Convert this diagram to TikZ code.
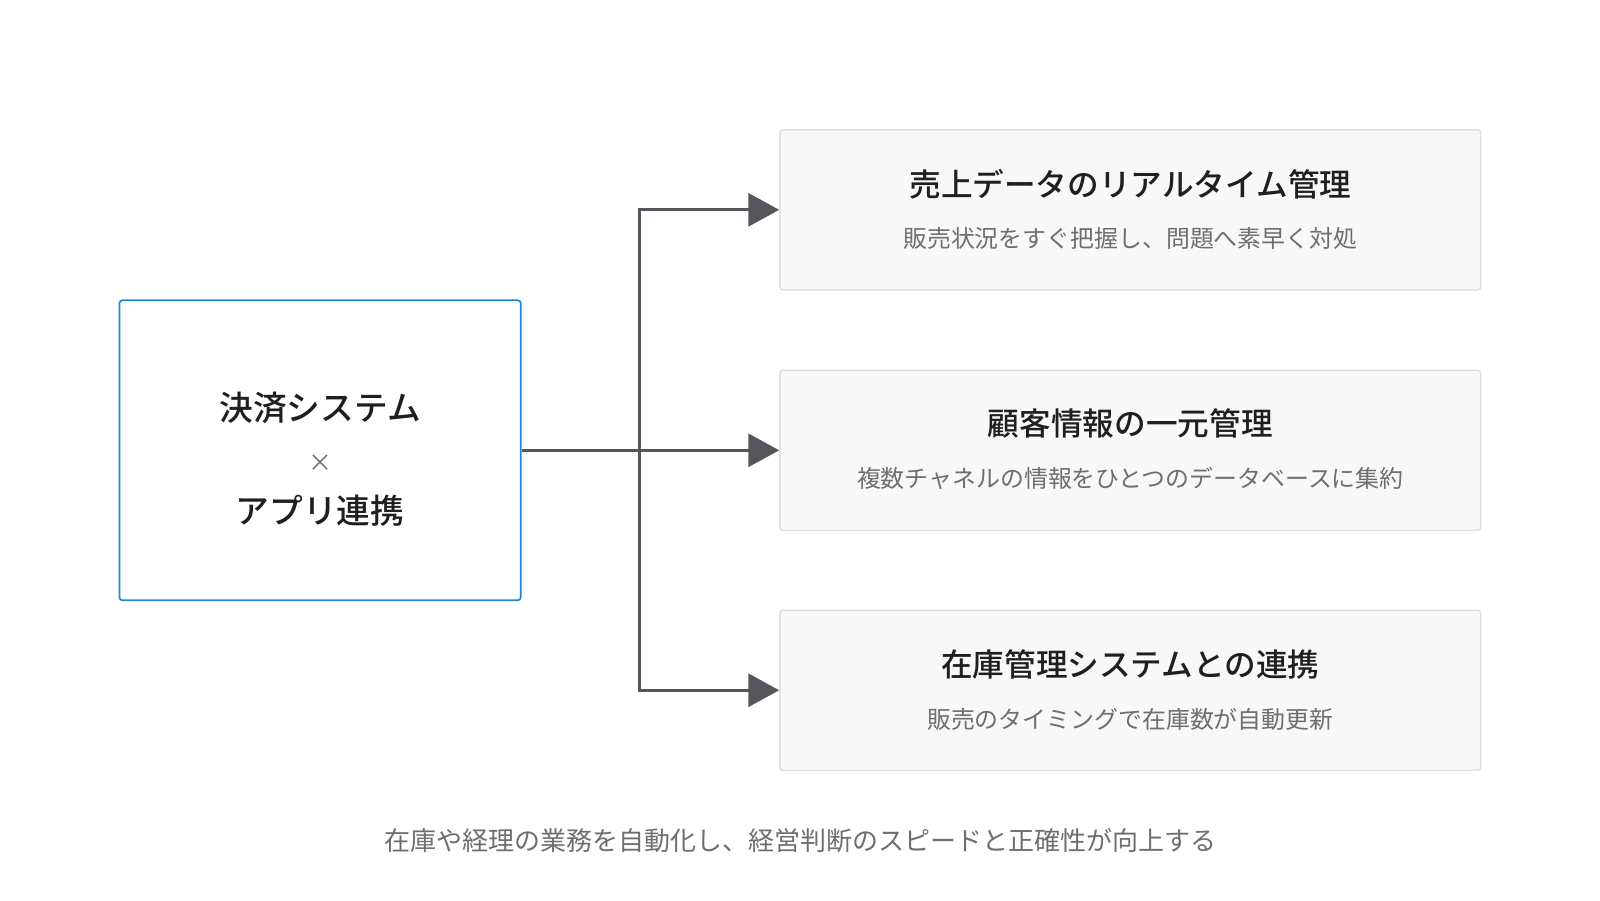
\documentclass[tikz,border=0pt]{standalone}
\usepackage{fontspec}
\setmainfont{Noto Sans CJK JP}
\newfontfamily\medfont{Noto Sans CJK JP Medium}
\usetikzlibrary{arrows.meta, positioning}
\definecolor{lineblue}{HTML}{1A88D6}
\definecolor{darkline}{HTML}{55555C}
\definecolor{boxfill}{HTML}{F8F8F8}
\definecolor{boxline}{HTML}{DDDDDD}
\definecolor{subgray}{HTML}{6E6E6E}
\tikzset{
  card/.style={draw=boxline, fill=boxfill, rounded corners=2pt, line width=1pt, minimum width=17.52cm, minimum height=4cm},
  titletext/.style={font=\fontsize{22.5}{27}\medfont, text=black!88},
  subtext/.style={font=\fontsize{17}{20}\selectfont, text=subgray},
  link/.style={draw=darkline, line width=2.3pt, -{Triangle[length=0.77cm, width=0.82cm]}}
}
\begin{document}
\begin{tikzpicture}[x=0.02553cm, y=-0.02553cm]
    \path[use as bounding box] (0,0) rectangle (1567,881.5);

    % Source box
    \node[draw=lineblue, line width=1.2pt, rounded corners=2pt, minimum width=10.03cm, minimum height=7.5cm] (src) at (313.5,441) {};
    \node[titletext, font=\fontsize{24}{28}\medfont] (srcA) at (313.5,399) {決済システム};
    \node[subtext] (srcX) at (313.5,454) {×};
    \node[titletext, font=\fontsize{24}{28}\medfont] (srcB) at (313.5,500) {アプリ連携};

    % Cards
    \node[card] (c1) at (1107,205.5) {};
    \node[card] (c2) at (1107,441) {};
    \node[card] (c3) at (1107,676) {};
    \node[titletext] (t1) at (1107,180) {売上データのリアルタイム管理};
    \node[subtext] (s1) at (1107,234) {販売状況をすぐ把握し、問題へ素早く対処};
    \node[titletext] (t2) at (1107,415) {顧客情報の一元管理};
    \node[subtext] (s2) at (1107,469) {複数チャネルの情報をひとつのデータベースに集約};
    \node[titletext] (t3) at (1107,651) {在庫管理システムとの連携};
    \node[subtext] (s3) at (1107,705) {販売のタイミングで在庫数が自動更新};

    % Connectors
    \coordinate (fork) at (626,441);
    \draw[draw=darkline, line width=2.3pt] (src.east) -- (fork);
    \draw[link] (fork) |- (c1.west);
    \draw[link] (fork) -- (c2.west);
    \draw[link] (fork) |- (c3.west);

    \node[subtext, font=\fontsize{18.5}{22}\selectfont] (note) at (784,823) {在庫や経理の業務を自動化し、経営判断のスピードと正確性が向上する};
\end{tikzpicture}
\end{document}
